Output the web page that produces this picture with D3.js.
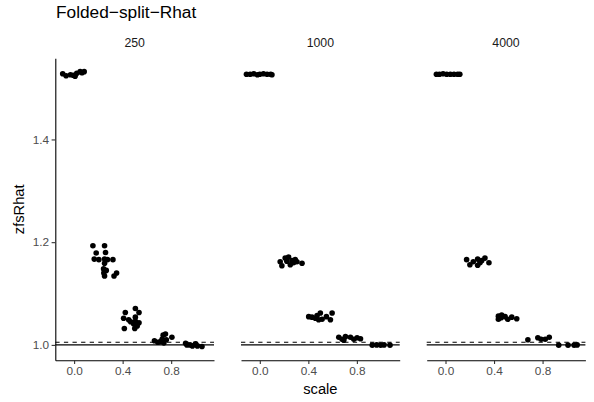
<!DOCTYPE html>
<html><head><meta charset="utf-8">
<script src="https://cdn.jsdelivr.net/npm/d3@7"></script>
<style>body{margin:0;background:#fff}svg{display:block}text{font-family:"Liberation Sans",Arial,sans-serif}</style>
</head><body><svg id="c" width="594" height="402"></svg>
<script>
const panels = ["250", "1000", "4000"];
const xTicks = [0.0, 0.4, 0.8];
const yTicks = [1.0, 1.2, 1.4];
const refSolid = 1.0;
const refDashed = 1.005;
// points per panel: [scale (jittered), zfsRhat]
const pts250 = [
 [-0.094,1.528],[-0.066,1.524],[-0.03,1.526],[-0.006,1.525],[0.008,1.523],[0.022,1.529],[0.05,1.532],[0.083,1.532],[0.065,1.530],
 [0.155,1.193],[0.251,1.193],[0.182,1.179],[0.259,1.180],[0.166,1.167],[0.204,1.166],[0.251,1.167],[0.275,1.166],[0.320,1.166],
 [0.251,1.159],[0.243,1.148],[0.265,1.145],[0.251,1.134],[0.329,1.134],[0.350,1.140],[0.245,1.140],
 [0.422,1.063],[0.505,1.071],[0.535,1.063],[0.408,1.052],[0.450,1.049],[0.505,1.054],[0.505,1.046],[0.535,1.043],[0.490,1.041],
 [0.414,1.032],[0.500,1.032],[0.520,1.037],[0.466,1.045],
 [0.662,1.008],[0.690,1.005],[0.734,1.019],[0.753,1.021],[0.725,1.011],[0.760,1.010],[0.806,1.015],[0.740,1.004],[0.710,1.006],
 [0.919,1.003],[0.930,1.000],[0.955,1.000],[0.975,0.998],[1.002,1.002],[1.016,0.998],[1.054,0.997]
];
const pts1000 = [
 [-0.11,1.527],[-0.08,1.527],[-0.05,1.528],[-0.02,1.526],[0.0,1.527],[0.03,1.528],[0.06,1.527],[0.09,1.527],[0.10,1.526],
 [0.168,1.162],[0.182,1.154],[0.209,1.169],[0.237,1.171],[0.251,1.156],[0.265,1.164],[0.292,1.166],[0.306,1.162],[0.348,1.159],[0.223,1.163],[0.278,1.160],
 [0.403,1.055],[0.430,1.054],[0.472,1.057],[0.499,1.062],[0.513,1.050],[0.485,1.049],[0.549,1.055],[0.596,1.062],[0.582,1.049],[0.458,1.052],
 [0.651,1.015],[0.678,1.011],[0.706,1.016],[0.747,1.015],[0.775,1.011],[0.802,1.014],[0.830,1.012],[0.692,1.009],
 [0.927,0.9995],[0.963,1.000],[0.996,0.9995],[1.024,1.000],[1.073,0.9995]
];
const pts4000 = [
 [-0.075,1.527],[-0.05,1.527],[-0.02,1.528],[0.01,1.527],[0.04,1.527],[0.07,1.527],[0.10,1.527],[0.118,1.527],
 [0.174,1.166],[0.201,1.156],[0.229,1.162],[0.265,1.167],[0.265,1.155],[0.298,1.164],[0.325,1.169],[0.358,1.160],[0.284,1.160],
 [0.436,1.056],[0.458,1.053],[0.491,1.055],[0.513,1.050],[0.546,1.054],[0.587,1.051],[0.463,1.058],[0.436,1.050],
 [0.679,1.010],[0.761,1.014],[0.788,1.011],[0.822,1.011],[0.855,1.015],
 [0.933,0.9995],[1.010,0.9995],[1.060,0.9995],[1.085,1.000]
];
const panelData = [pts250, pts1000, pts4000];

const svg = d3.select("#c");
const pTop = 58.3, pBottom = 360.3, pw = 158.7;
const lefts = [55.3, 241, 426.7];
const x = d3.scaleLinear().domain([-0.155, 1.153]).range([0, pw]);
const y = d3.scaleLinear().domain([0.970, 1.558]).range([pBottom, pTop]);

svg.append("text").attr("x", 56).attr("y", 17.5).attr("font-size", 17.3).attr("fill", "#000").text("Folded\u2212split\u2212Rhat");

panels.forEach((p, i) => {
  const g = svg.append("g").attr("transform", `translate(${lefts[i]},0)`);
  g.append("text").attr("x", pw / 2).attr("y", 46.5).attr("text-anchor", "middle")
    .attr("font-size", 12.3).attr("fill", "#1A1A1A").text(p);
  g.append("line").attr("x1", 0).attr("x2", pw).attr("y1", y(refSolid)).attr("y2", y(refSolid))
    .attr("stroke", "#000").attr("stroke-width", 1.1);
  g.append("line").attr("x1", 0).attr("x2", pw).attr("y1", y(refDashed)).attr("y2", y(refDashed))
    .attr("stroke", "#000").attr("stroke-width", 1.1).attr("stroke-dasharray", "4.3,4.3");
  g.selectAll("circle").data(panelData[i]).join("circle")
    .attr("cx", d => x(d[0])).attr("cy", d => y(d[1])).attr("r", 2.8).attr("fill", "#000");
  const xa = g.append("g").attr("transform", `translate(0,${pBottom})`)
    .call(d3.axisBottom(x).tickValues(xTicks).tickFormat(d3.format(".1f")).tickSizeInner(3.7).tickSizeOuter(0).tickPadding(2.5));
  xa.select(".domain").attr("stroke", "#000").attr("stroke-width", 1.1);
  xa.selectAll(".tick line").attr("stroke", "#333").attr("stroke-width", 1.1);
  xa.selectAll(".tick text").attr("font-size", 11.8).attr("fill", "#4D4D4D").attr("font-family", "Liberation Sans, Arial, sans-serif");
  if (i === 0) {
    const ya = g.append("g").call(d3.axisLeft(y).tickValues(yTicks).tickFormat(d3.format(".1f")).tickSizeInner(3.7).tickSizeOuter(0).tickPadding(2.5));
    ya.select(".domain").attr("stroke", "#000").attr("stroke-width", 1.1);
    ya.selectAll(".tick line").attr("stroke", "#333").attr("stroke-width", 1.1);
    ya.selectAll(".tick text").attr("font-size", 11.8).attr("fill", "#4D4D4D").attr("font-family", "Liberation Sans, Arial, sans-serif");
  }
});

svg.append("text").attr("x", (lefts[0] + lefts[2] + pw) / 2).attr("y", 394).attr("text-anchor", "middle")
  .attr("font-size", 14.7).attr("fill", "#000").text("scale");
svg.append("text").attr("transform", `translate(24,${(pTop + pBottom) / 2}) rotate(-90)`).attr("text-anchor", "middle")
  .attr("font-size", 14.7).attr("fill", "#000").text("zfsRhat");
</script></body></html>
